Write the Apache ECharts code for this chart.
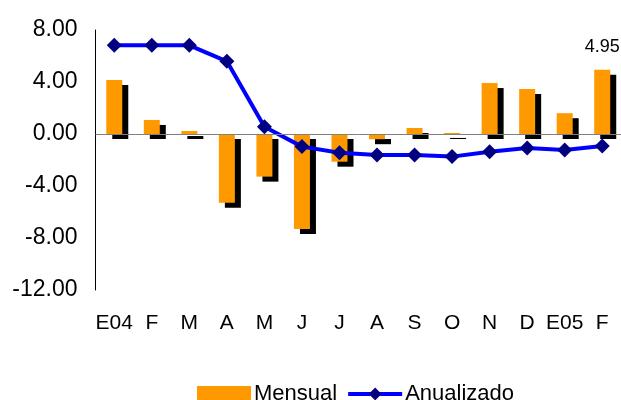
<!DOCTYPE html>
<html>
<head>
<meta charset="utf-8">
<script src="https://cdn.jsdelivr.net/npm/echarts@6/dist/echarts.min.js"></script>
<style>html,body{margin:0;padding:0;background:#fff;}#c{width:621px;height:400px;}</style>
</head>
<body>
<div id="c"></div>
<script>
var categories = ['E04','F','M','A','M','J','J','A','S','O','N','D','E05','F'];
var mensual = [4.15, 1.08, 0.23, -5.28, -3.28, -7.3, -2.13, -0.4, 0.46, 0.08, 3.92, 3.46, 1.6, 4.95];
var anualizado = [6.82, 6.82, 6.82, 5.59, 0.56, -0.97, -1.44, -1.62, -1.62, -1.74, -1.36, -1.08, -1.23, -0.92];
var yTicks = [-12, -8, -4, 0, 4, 8];

var font = 'Liberation Sans, Arial, sans-serif';
var chart = echarts.init(document.getElementById('c'));
var barData = mensual.map(function (v, i) {
  if (i === mensual.length - 1) {
    return { value: v, label: { show: true, position: 'top', distance: 14, formatter: function (p) { return p.value.toFixed(2); }, fontSize: 18, color: '#000', fontFamily: font } };
  }
  return v;
});
chart.setOption({
  animation: false,
  textStyle: { fontFamily: font },
  grid: { left: 95.5, right: 0, top: 30, bottom: 110, containLabel: false },
  legend: {
    left: 192, top: 378,
    itemWidth: 54, itemHeight: 16, itemGap: 9,
    lineStyle: { width: 4 },
    textStyle: { fontSize: 22, color: '#000', fontFamily: font, padding: [0, 0, 0, -2] },
    data: [{ name: 'Mensual', icon: 'rect' }, { name: 'Anualizado' }]
  },
  xAxis: {
    type: 'category', data: categories,
    axisLine: { show: false }, axisTick: { show: false },
    axisLabel: { fontSize: 21, color: '#000', margin: 23, interval: 0 }
  },
  yAxis: {
    type: 'value', min: yTicks[0], max: yTicks[yTicks.length - 1], interval: 4,
    axisLine: { show: true, lineStyle: { color: '#000', width: 1 } },
    axisTick: { show: false },
    splitLine: { show: false },
    axisLabel: { fontSize: 23, color: '#000', margin: 18, formatter: function (v) { return v.toFixed(2); } }
  },
  series: [
    {
      name: 'Mensual', type: 'bar', data: barData, barWidth: 16,
      itemStyle: { color: '#FF9900', shadowColor: '#000', shadowBlur: 0, shadowOffsetX: 6, shadowOffsetY: 5 },
      markLine: {
        silent: true, symbol: 'none', label: { show: false },
        lineStyle: { color: '#808080', width: 1, type: 'solid' },
        data: [{ yAxis: 0 }]
      },
      z: 2
    },
    {
      name: 'Anualizado', type: 'line', data: anualizado,
      lineStyle: { color: '#0000FF', width: 4 },
      itemStyle: { color: '#000080' },
      symbol: 'diamond', symbolSize: 15, showSymbol: true,
      z: 3
    }
  ]
});
</script>
</body>
</html>
